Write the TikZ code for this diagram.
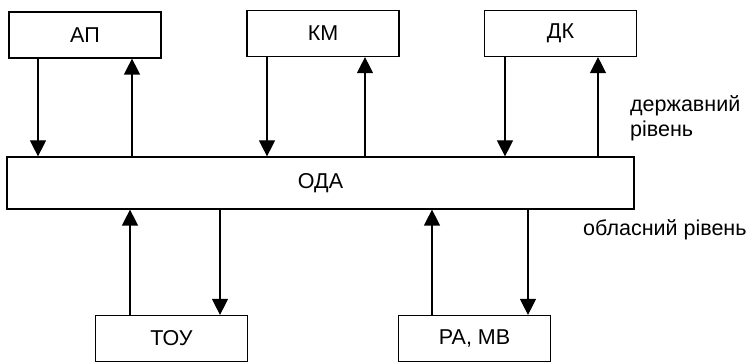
\documentclass[tikz,border=0pt]{standalone}
\usepackage{fontspec}
\setmainfont{Liberation Sans}
\usepackage{tikz}
\usetikzlibrary{arrows.meta,positioning}

\begin{document}
\begin{tikzpicture}[x=1pt,y=-1pt,
  font=\fontsize{21.5}{25}\selectfont,
  unit/.style={draw,line width=1.2pt,inner sep=0pt,minimum width=152pt,minimum height=46pt},
  arr/.style={line width=1.2pt,-{Triangle[width=16pt,length=16pt]}},
  lvl/.style={anchor=west,align=left,inner sep=0pt}]
  \useasboundingbox (0,0) rectangle (749,363);
  % upper level
  \node[unit] (AP) at (85,35) {АП};
  \node[unit] (KM) at (323,33.5) {КМ};
  \node[unit] (DK) at (560.5,33.5) {ДК};
  % regional administration
  \node[unit,minimum width=627pt,minimum height=52pt] (ODA) at (320.5,183) {ОДА};
  % lower level
  \node[unit] (TOU) at (171.5,338.5) {ТОУ};
  \node[unit] (RA) at (474.5,338.5) {РА, МВ};
  % levels
  \node[lvl] (state) at (630,118) {державний\\рівень};
  \node[lvl] (region) at (583,230) {обласний рівень};
  % connectors
  \draw[arr] ([xshift=-47pt]AP.south) -- ([xshift=-47pt]AP.south |- ODA.north);
  \draw[arr] ([xshift=47pt]AP.south |- ODA.north) -- ([xshift=47pt]AP.south);
  \draw[arr] ([xshift=-56pt]KM.south) -- ([xshift=-56pt]KM.south |- ODA.north);
  \draw[arr] ([xshift=42pt]KM.south |- ODA.north) -- ([xshift=42pt]KM.south);
  \draw[arr] ([xshift=-55.5pt]DK.south) -- ([xshift=-55.5pt]DK.south |- ODA.north);
  \draw[arr] ([xshift=37.5pt]DK.south |- ODA.north) -- ([xshift=37.5pt]DK.south);
  \draw[arr] ([xshift=-41.5pt]TOU.north) -- ([xshift=-41.5pt]TOU.north |- ODA.south);
  \draw[arr] ([xshift=48.5pt]TOU.north |- ODA.south) -- ([xshift=48.5pt]TOU.north);
  \draw[arr] ([xshift=-42.5pt]RA.north) -- ([xshift=-42.5pt]RA.north |- ODA.south);
  \draw[arr] ([xshift=53.5pt]RA.north |- ODA.south) -- ([xshift=53.5pt]RA.north);
\end{tikzpicture}
\end{document}
